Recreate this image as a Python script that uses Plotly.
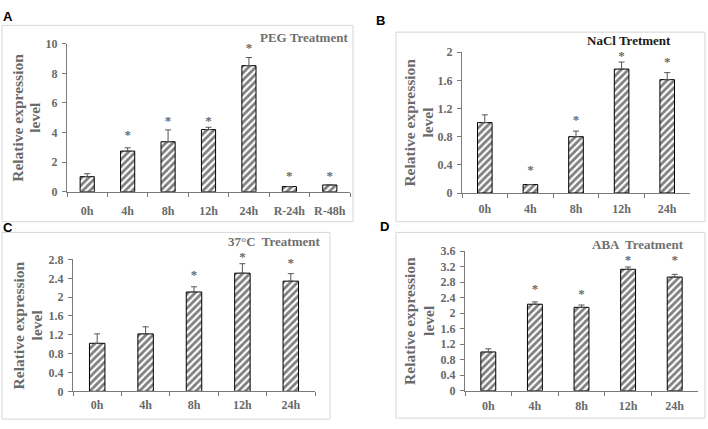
import plotly.graph_objects as go

W, H = 708, 429

# ---------------- data ----------------
cats_A = ["0h", "4h", "8h", "12h", "24h", "R-24h", "R-48h"]
vals_A = [1.02, 2.75, 3.38, 4.2, 8.52, 0.35, 0.46]
err_A = [0.2, 0.22, 0.8, 0.16, 0.55, 0.0, 0.0]
star_cats_A = ["4h", "8h", "12h", "24h", "R-24h", "R-48h"]
star_y_A = [3.81, 4.75, 4.75, 9.65, 1.0, 1.0]

cats_B = ["0h", "4h", "8h", "12h", "24h"]
vals_B = [1.0, 0.12, 0.8, 1.76, 1.61]
err_B = [0.11, 0.0, 0.08, 0.1, 0.1]
star_cats_B = ["4h", "8h", "12h", "24h"]
star_y_B = [0.32, 1.025, 1.935, 1.85]

cats_C = ["0h", "4h", "8h", "12h", "24h"]
vals_C = [1.02, 1.22, 2.11, 2.51, 2.34]
err_C = [0.2, 0.15, 0.11, 0.2, 0.16]
star_cats_C = ["8h", "12h", "24h"]
star_y_C = [2.46, 2.84, 2.7]

cats_D = ["0h", "4h", "8h", "12h", "24h"]
vals_D = [1.0, 2.23, 2.15, 3.13, 2.93]
err_D = [0.08, 0.06, 0.06, 0.06, 0.07]
star_cats_D = ["4h", "8h", "12h", "24h"]
star_y_D = [2.59, 2.48, 3.35, 3.35]

titles = ["PEG Treatment", "NaCl Tretment", "37\u00b0C  Treatment", "ABA  Treatment"]
y_ranges = [[0, 10], [0, 2], [0, 2.8], [0, 3.6]]
y_dticks = [2, 0.4, 0.4, 0.4]
panel_letters = ["A", "B", "C", "D"]
ytitle_lines = ["Relative expression", "level"]

# ---------------- layout geometry (pixels) ----------------
# plot area: x0, x1, y_bottom, y_top
areas = [(67, 350, 191, 38), (462, 690, 192.3, 46.7), (73, 315, 397.3, 261), (465, 698, 396.7, 252.3)]
frames = [(2, 19, 353, 222), (396, 26, 705, 222), (2, 233, 330, 426), (396, 233, 705, 425)]
letter_pos = [(8, 10), (380, 14), (8, 228), (385, 227)]
title_pos = [(350, 32), (673, 35), (323, 242), (686, 245)]
title_colors = ["#707070", "#1a1a1a", "#707070", "#707070"]
ytitle_x = [(18, 35), (410, 428), (18, 36), (410, 429)]
x_standoff = [8, 5, 2, 4]
bar_w = [0.35, 0.32, 0.32, 0.32]
STAR_EXT = 30  # extra pixels above each plot area for the asterisk layer

GRAY = "#7a7a7a"
TXT = "#6a6a6a"
SERIF = "Liberation Serif"

data_sets = [
    (cats_A, vals_A, err_A, star_cats_A, star_y_A),
    (cats_B, vals_B, err_B, star_cats_B, star_y_B),
    (cats_C, vals_C, err_C, star_cats_C, star_y_C),
    (cats_D, vals_D, err_D, star_cats_D, star_y_D),
]

fig = go.Figure()
annotations = []
shapes = []


def px(x):
    return x / W


def py(y):
    return 1 - y / H


for i, (cats, vals, err, scats, sy) in enumerate(data_sets):
    n = i + 1
    sn = n + 4  # star overlay axis number
    xa = "x" if n == 1 else f"x{n}"
    ya = "y" if n == 1 else f"y{n}"
    ys = f"y{sn}"
    fig.add_trace(go.Bar(
        x=cats, y=vals, xaxis=xa, yaxis=ya, width=bar_w[i],
        marker=dict(color="white", line=dict(color="black", width=1),
                    pattern=dict(shape="/", fgcolor="black", bgcolor="white", size=5, solidity=0.55)),
        error_y=dict(type="data", array=err, arrayminus=[0] * len(err), symmetric=False,
                     color="#555555", thickness=1, width=3),
        showlegend=False,
    ))
    fig.add_trace(go.Scatter(
        x=scats, y=sy, xaxis=xa, yaxis=ys, mode="text", text=["*"] * len(scats),
        textposition="middle center", cliponaxis=False,
        textfont=dict(family=SERIF, size=13, color=TXT, weight="bold"),
        showlegend=False, hoverinfo="skip",
    ))
    x0, x1, yb, yt = areas[i]
    ax_common = dict(showline=True, linecolor=GRAY, linewidth=1, ticks="outside",
                     tickcolor=GRAY, ticklen=4, showgrid=False, zeroline=False,
                     tickfont=dict(family=SERIF, size=12, color=TXT, weight="bold"))
    fig.layout[f"xaxis{'' if n == 1 else n}"] = dict(
        domain=[px(x0), px(x1)], anchor=ya, type="category", tickangle=0,
        range=[-0.5, len(cats) - 0.5], tickson="boundaries",
        ticklabelstandoff=x_standoff[i], **ax_common)
    fig.layout[f"yaxis{'' if n == 1 else n}"] = dict(
        domain=[py(yb), py(yt)], anchor=xa, range=y_ranges[i], dtick=y_dticks[i],
        ticklabelstandoff=2, **ax_common)
    # invisible overlay axis with the same scale, extended upward, for the asterisks
    r0, r1 = y_ranges[i]
    span_px = yb - yt
    ext_top = r1 + (r1 - r0) * STAR_EXT / span_px
    fig.layout[f"yaxis{sn}"] = dict(
        domain=[py(yb), py(yt - STAR_EXT)], anchor=xa, range=[r0, ext_top],
        visible=False, showgrid=False, zeroline=False)

    fx0, fy0, fx1, fy1 = frames[i]
    shapes.append(dict(type="rect", xref="paper", yref="paper",
                       x0=px(fx0), x1=px(fx1), y0=py(fy1), y1=py(fy0),
                       line=dict(color="#d6d6d6", width=1), fillcolor="rgba(0,0,0,0)", layer="below"))
    lx, ly = letter_pos[i]
    annotations.append(dict(text=panel_letters[i], xref="paper", yref="paper",
                            x=px(lx), y=py(ly), xanchor="center", yanchor="middle", showarrow=False,
                            font=dict(family="Liberation Sans", size=13, color="black", weight="bold")))
    tx, ty = title_pos[i]
    annotations.append(dict(text=titles[i], xref="paper", yref="paper",
                            x=px(tx), y=py(ty), xanchor="right", yanchor="middle", showarrow=False,
                            font=dict(family=SERIF, size=13, color=title_colors[i], weight="bold")))
    yc = (yb + yt) / 2
    for k, line in enumerate(ytitle_lines):
        annotations.append(dict(text=line, xref="paper", yref="paper",
                                x=px(ytitle_x[i][k]), y=py(yc), xanchor="center", yanchor="middle",
                                textangle=-90, showarrow=False,
                                font=dict(family=SERIF, size=15.5, color=TXT, weight="bold")))

fig.update_layout(width=W, height=H, margin=dict(l=0, r=0, t=0, b=0),
                  paper_bgcolor="white", plot_bgcolor="rgba(0,0,0,0)",
                  annotations=annotations, shapes=shapes)

fig.write_html("out.html", config={"displayModeBar": False},
               post_script="document.body.style.margin='0px';document.body.style.overflow='hidden';")
